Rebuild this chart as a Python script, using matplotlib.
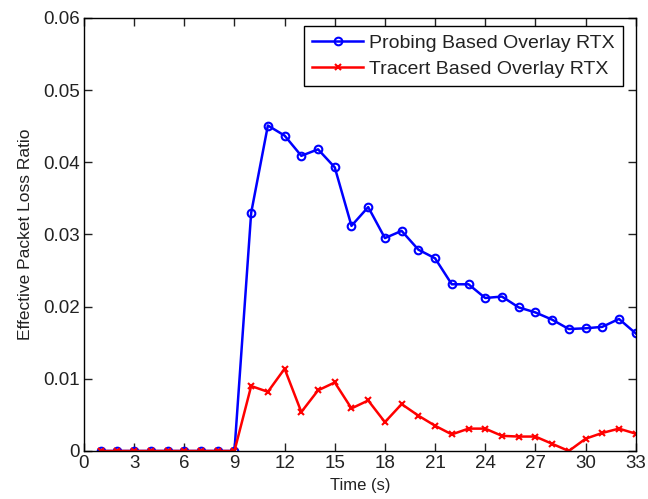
import numpy as np
import matplotlib.pyplot as plt

plt.rcParams['font.family'] = ['Liberation Sans', 'DejaVu Sans']

# time axis (s)
t = np.arange(1, 34)

probing = [0, 0, 0, 0, 0, 0, 0, 0, 0,
           0.0330, 0.0451, 0.0437, 0.0409, 0.0418, 0.0393, 0.0312, 0.0338,
           0.0295, 0.0305, 0.0279, 0.0267, 0.0231, 0.0231, 0.0212, 0.0214,
           0.0199, 0.0192, 0.0182, 0.0169, 0.0170, 0.0172, 0.0183, 0.0163]

tracert = [0, 0, 0, 0, 0, 0, 0, 0, 0,
           0.0090, 0.0082, 0.0114, 0.0054, 0.0084, 0.0095, 0.0059, 0.0070,
           0.0040, 0.0065, 0.0049, 0.0035, 0.0023, 0.0031, 0.0031, 0.0021,
           0.0020, 0.0020, 0.0010, 0.0000, 0.0017, 0.0025, 0.0031, 0.0024]

fig = plt.figure(figsize=(6.48, 4.99), dpi=100)
ax = fig.add_axes([0.1296, 0.0962, 0.8514, 0.8678])

ax.plot(t, probing, color='#0000ff', lw=1.8, marker='o', ms=5.5, mfc='none',
        mew=1.5, label='Probing Based Overlay RTX')
ax.plot(t, tracert, color='#ff0000', lw=1.8, marker='x', ms=4,
        mew=1.5, label='Tracert Based Overlay RTX')

ax.set_xlim(0, 33)
ax.set_ylim(0, 0.06)
ax.set_xticks(np.arange(0, 34, 3))
ax.set_yticks(np.arange(0, 0.061, 0.01))
ax.set_yticklabels(['0', '0.01', '0.02', '0.03', '0.04', '0.05', '0.06'])
ax.tick_params(direction='in', top=True, right=True, labelsize=13.5,
               length=6, width=1, colors='#222222', pad=3)
for s in ax.spines.values():
    s.set_linewidth(1)

ax.set_xlabel('Time (s)', fontsize=12, labelpad=4, color='#222222')
ax.set_ylabel('Effective Packet Loss Ratio', fontsize=12.5, labelpad=7,
              color='#222222')

leg = ax.legend(loc='upper right', bbox_to_anchor=(0.9764, 0.9815),
                fontsize=14, fancybox=False, edgecolor='black', framealpha=1,
                handlelength=2.6, handletextpad=0.3, borderaxespad=0,
                labelspacing=0.45, borderpad=0.42)
leg.get_frame().set_linewidth(1)
for txt in leg.get_texts():
    txt.set_color('#222222')

fig.savefig('out.png', dpi=100)
